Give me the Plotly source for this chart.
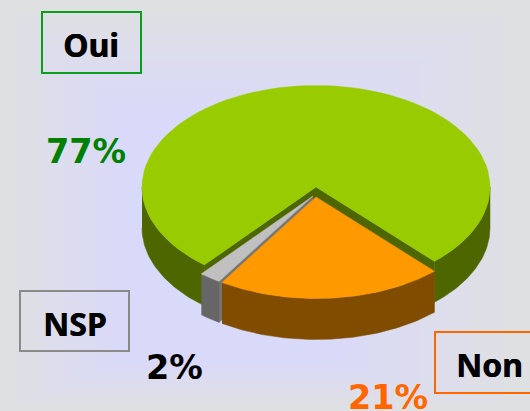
import numpy as np
import plotly.graph_objects as go

# Data, in drawing order around the pie (clockwise from the Non slice)
categories = ["Non", "Oui", "NSP"]
shares = [21, 77, 2]
share_labels = ["21%", "77%", "2%"]

W, H = 530, 411
RX, RY, DEPTH = 174, 101.5, 41
ROTATION = -32.7
APEX = {"Oui": (316, 187), "Non": (316, 197), "NSP": (313, 196)}
TOP = {"Oui": "#99cc00", "Non": "#ff9900", "NSP": "#c0c0c0"}
WALL = {"Oui": "#4d6600", "Non": "#804c00", "NSP": "#666666"}

ends = np.cumsum(shares) / sum(shares) * 360 + ROTATION
starts = ends - np.array(shares) / sum(shares) * 360
span = {c: (s, e) for c, s, e in zip(categories, starts, ends)}


def arc(cat, a, b, dy=0, n=90):
    t = np.radians(np.linspace(a, b, n))
    cx, cy = APEX[cat]
    return cx + RX * np.sin(t), cy + RY * np.cos(t) + dy


fig = go.Figure()


def poly(x, y, color):
    fig.add_trace(go.Scatter(x=list(x), y=list(y), mode="lines", fill="toself",
                             fillcolor=color, line=dict(color=color, width=0.5),
                             hoverinfo="skip", showlegend=False))


def outer_wall(cat, a, b):
    x1, y1 = arc(cat, a, b)
    x2, y2 = arc(cat, a, b, DEPTH)
    poly(np.r_[x1, x2[::-1]], np.r_[y1, y2[::-1]], WALL[cat])


def radial_wall(cat, angle, color=None):
    cx, cy = APEX[cat]
    x, y = arc(cat, angle, angle, n=1)
    poly([cx, x[0], x[0], cx], [cy, y[0], y[0] + DEPTH, cy + DEPTH], color or WALL[cat])


def top(cat):
    s, e = span[cat]
    x, y = arc(cat, s, e)
    cx, cy = APEX[cat]
    poly(np.r_[cx, x, cx], np.r_[cy, y, cy], TOP[cat])


# Oui
s, e = span["Oui"]
radial_wall("Oui", s)
radial_wall("Oui", e)
outer_wall("Oui", s, 90)
outer_wall("Oui", 270, e)
top("Oui")
# NSP
s, e = span["NSP"]
radial_wall("NSP", e, "#757575")
outer_wall("NSP", s, e)
top("NSP")
# Non
s, e = span["Non"]
outer_wall("Non", s, e)
top("Non")

# Background: stepped rectangular gradient
shapes = []
steps = 14
outer, inner = np.array([223, 224, 226]), np.array([217, 217, 249])
for i in range(steps):
    t = (i / (steps - 1)) ** 0.8
    c = (outer + (inner - outer) * t).round().astype(int)
    shapes.append(dict(type="rect", layer="below", line_width=0,
                       x0=0 + 120 * t, x1=W - 200 * t, y0=0 + 110 * t, y1=H - 50 * t,
                       fillcolor=f"rgb({c[0]},{c[1]},{c[2]})"))

# Label boxes
boxes = {"Oui": (42, 12, 141, 73, "#0a9e1e"),
         "NSP": (20, 291, 129, 351, "#8a8a8a"),
         "Non": (435, 332, 540, 393, "#ff6600")}
for x0, y0, x1, y1, col in boxes.values():
    shapes.append(dict(type="rect", layer="above", x0=x0, x1=x1, y0=y0, y1=y1,
                       line=dict(color=col, width=2), fillcolor="rgba(0,0,0,0)"))

name_pos = {"Oui": (90.5, 44), "NSP": (74.5, 323), "Non": (489, 364)}
pct_pos = {"Oui": (85.5, 151, "#008000"), "NSP": (174.5, 367, "#000000"), "Non": (388, 397, "#ff6600")}
ann = []
for c, lab in zip(categories, share_labels):
    x, y = name_pos[c]
    ann.append(dict(x=x, y=y, text=f"<b>{c}</b>", showarrow=False,
                    font=dict(family="Noto Sans", size=32, color="black",
                              shadow="0.6px 0 0 #000000")))
    x, y, col = pct_pos[c]
    ann.append(dict(x=x, y=y, text=f"<b>{lab}</b>", showarrow=False,
                    font=dict(family="DejaVu Sans", size=33.5, color=col)))

fig.update_layout(width=W, height=H, margin=dict(l=0, r=0, t=0, b=0),
                  paper_bgcolor="#dfe0e2", plot_bgcolor="rgba(0,0,0,0)",
                  shapes=shapes, annotations=ann, showlegend=False,
                  xaxis=dict(range=[0, W], visible=False, fixedrange=True),
                  yaxis=dict(range=[H, 0], visible=False, fixedrange=True))
fig.write_html("out.html", config={"displayModeBar": False},
               post_script="document.body.style.margin='0';")
